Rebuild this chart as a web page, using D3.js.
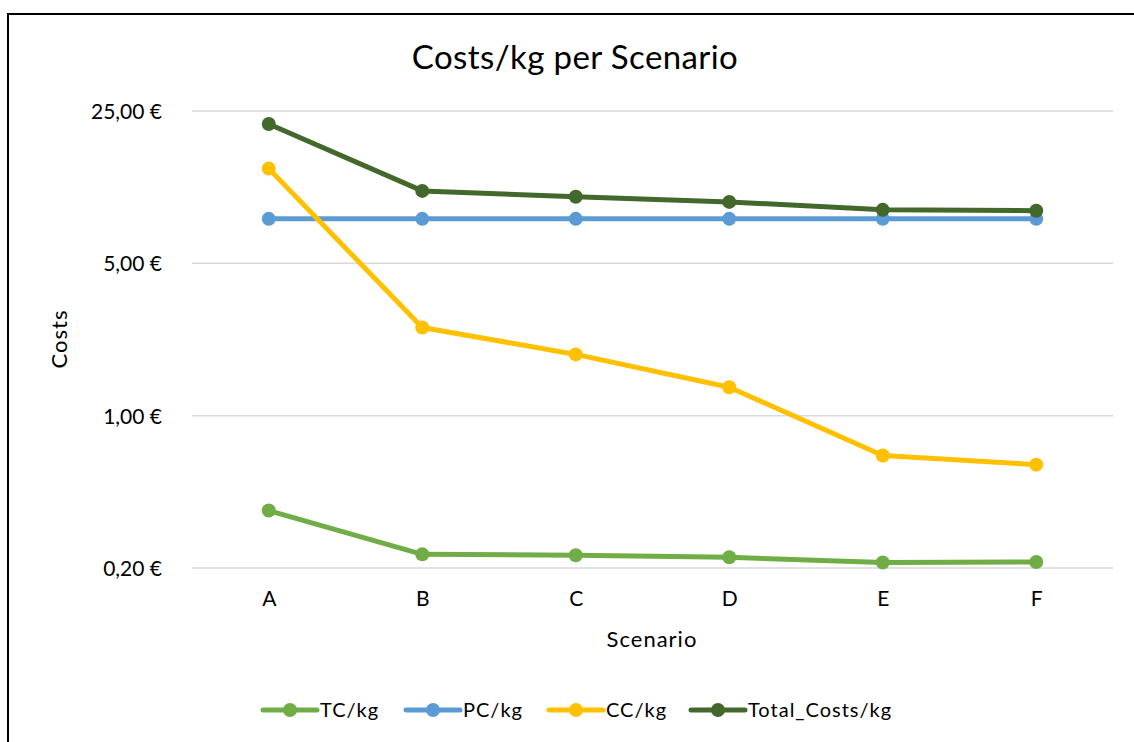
<!DOCTYPE html>
<html>
<head>
<meta charset="utf-8">
<script src="https://cdn.jsdelivr.net/npm/d3@7"></script>
<style>
  body { margin: 0; background: #fff; }
  svg text { font-family: Lato, "Open Sans", sans-serif; fill: #000; }
</style>
</head>
<body>
<div class="svg"></div>
<script>
var scenarios = ["A", "B", "C", "D", "E", "F"];
var tcKg = [0.367, 0.231, 0.229, 0.224, 0.212, 0.213];
var pcKg = [8.0, 8.0, 8.0, 8.0, 8.0, 8.0];
var ccKg = [13.6, 2.54, 1.91, 1.35, 0.656, 0.596];
var totalKg = [21.8, 10.75, 10.1, 9.57, 8.8, 8.72];
var yTicks = [0.2, 1, 5, 25];

var seriesNames = ["TC/kg", "PC/kg", "CC/kg", "Total_Costs/kg"];
var seriesColors = ["#70AD47", "#5B9BD5", "#FFC000", "#43682B"];
var seriesValues = [tcKg, pcKg, ccKg, totalKg];

var w = 1134, h = 742;
var plot = { left: 192, right: 1113, top: 111, bottom: 568 };

var svg = d3.select('div.svg').append('svg')
  .attr('width', w)
  .attr('height', h);

// chart border, only top and left visible (cropped on the other sides)
svg.append('rect')
  .attr('x', 8).attr('y', 14)
  .attr('width', w + 20).attr('height', h + 20)
  .attr('fill', 'none')
  .attr('stroke', '#000')
  .attr('stroke-width', 2);

var x = d3.scalePoint()
  .domain(scenarios)
  .range([plot.left, plot.right])
  .padding(0.5);

var y = d3.scaleLog()
  .base(5)
  .domain([0.2, 25])
  .range([plot.bottom, plot.top]);

var fmt = function (d) { return d.toFixed(2).replace('.', ',') + ' €'; };

// gridlines
svg.append('g')
  .selectAll('line')
  .data(yTicks)
  .enter()
  .append('line')
  .attr('x1', plot.left)
  .attr('x2', plot.right)
  .attr('y1', function (d) { return y(d); })
  .attr('y2', function (d) { return y(d); })
  .attr('stroke', '#d9d9d9')
  .attr('stroke-width', 1.5);

// y axis labels
var yAxis = svg.append('g')
  .attr('transform', 'translate(' + (plot.left - 27) + ',0)')
  .call(d3.axisLeft(y).tickValues(yTicks).tickFormat(fmt).tickSize(0));
yAxis.select('.domain').remove();
yAxis.selectAll('text')
  .attr('font-size', '21px')
  .attr('dy', '0.35em')
  .style('font-family', 'Lato, "Open Sans", sans-serif');

// x axis labels
var xAxis = svg.append('g')
  .attr('transform', 'translate(0,' + (plot.bottom + 20) + ')')
  .call(d3.axisBottom(x).tickSize(0));
xAxis.select('.domain').remove();
xAxis.selectAll('text')
  .attr('font-size', '21px')
  .attr('dy', '0.71em')
  .style('font-family', 'Lato, "Open Sans", sans-serif');

// title and axis titles
svg.append('text')
  .attr('x', 575).attr('y', 69)
  .attr('text-anchor', 'middle')
  .attr('font-size', '33px')
  .attr('letter-spacing', '0.4px')
  .text('Costs/kg per Scenario');

svg.append('text')
  .attr('transform', 'translate(67,339) rotate(-90)')
  .attr('text-anchor', 'middle')
  .attr('font-size', '22px')
  .attr('letter-spacing', '1px')
  .text('Costs');

svg.append('text')
  .attr('x', 652).attr('y', 647)
  .attr('text-anchor', 'middle')
  .attr('font-size', '22px')
  .attr('letter-spacing', '1px')
  .text('Scenario');

// series lines and markers
var line = d3.line()
  .x(function (d, i) { return x(scenarios[i]); })
  .y(function (d) { return y(d); });

seriesValues.forEach(function (vals, s) {
  var g = svg.append('g');
  g.append('path')
    .datum(vals)
    .attr('d', line)
    .attr('fill', 'none')
    .attr('stroke', seriesColors[s])
    .attr('stroke-width', 5)
    .attr('stroke-linejoin', 'round');
  g.selectAll('circle')
    .data(vals)
    .enter()
    .append('circle')
    .attr('cx', function (d, i) { return x(scenarios[i]); })
    .attr('cy', function (d) { return y(d); })
    .attr('r', 7)
    .attr('fill', seriesColors[s]);
});

// legend
var legendX = [263, 406, 549, 691];
var legend = svg.append('g')
  .selectAll('g')
  .data(seriesNames)
  .enter()
  .append('g')
  .attr('transform', function (d, i) { return 'translate(' + legendX[i] + ',710)'; });
legend.append('line')
  .attr('x1', 0).attr('x2', 54)
  .attr('stroke', function (d, i) { return seriesColors[i]; })
  .attr('stroke-width', 5)
  .attr('stroke-linecap', 'round');
legend.append('circle')
  .attr('cx', 27).attr('r', 7)
  .attr('fill', function (d, i) { return seriesColors[i]; });
legend.append('text')
  .attr('x', 57).attr('dy', '0.35em')
  .attr('font-size', '20px')
  .attr('letter-spacing', '1px')
  .text(function (d) { return d; });
</script>
</body>
</html>
